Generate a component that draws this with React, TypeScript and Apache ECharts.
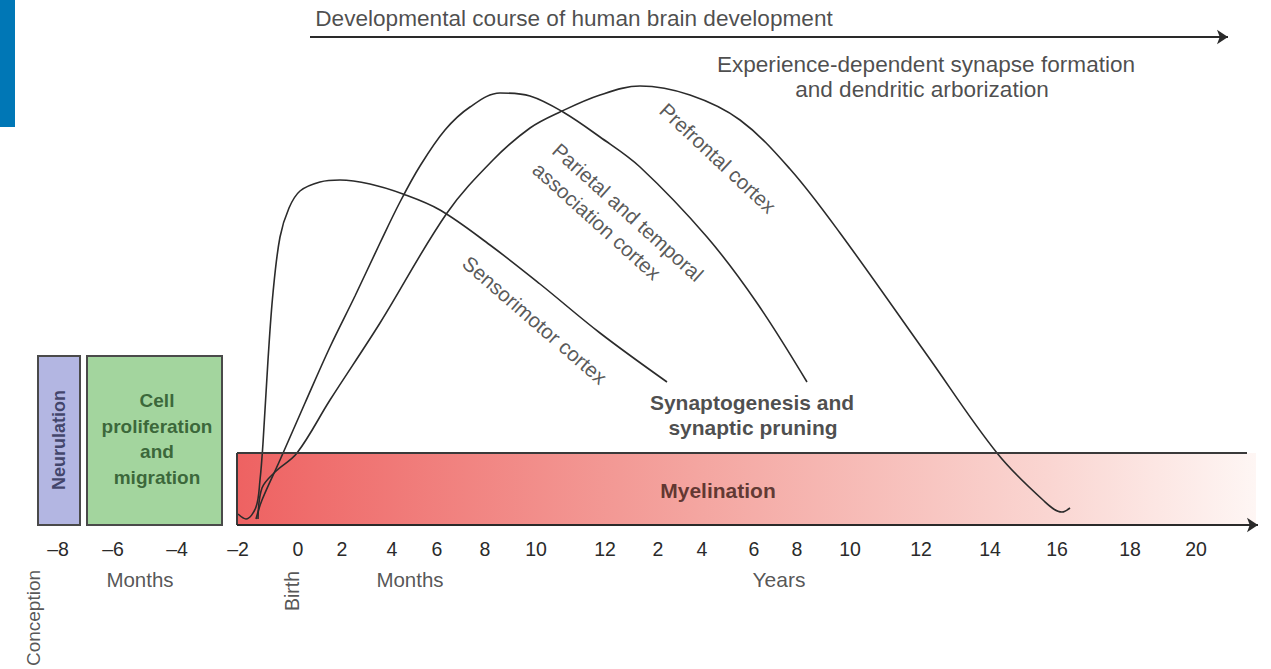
import React, { useEffect, useRef } from "react";
import * as echarts from "echarts";

// Timeline position (x) and level above the time axis (y)
const tickPositions = [58, 113, 177, 238, 298, 342, 392, 437, 485, 536, 605, 658, 702, 754, 797, 850, 921, 990, 1057, 1130, 1196];
const tickLabels = ["–8", "–6", "–4", "–2", "0", "2", "4", "6", "8", "10", "12", "2", "4", "6", "8", "10", "12", "14", "16", "18", "20"];

const sensorimotorX = [238, 246, 256, 260, 263, 268, 273, 280, 289, 300, 320, 340, 370, 403, 440, 490, 540, 600, 667];
const sensorimotorY = [11, 6, 18, 45, 82, 165, 232, 288, 317, 334, 343, 345, 341, 331, 315, 280, 241, 192, 143];

const parietalX = [256, 262, 280, 305, 330, 355, 380, 400, 420, 445, 470, 500, 530, 563, 600, 640, 707, 757, 807];
const parietalY = [6, 25, 65, 122, 178, 229, 282, 323, 359, 395, 418, 432, 429, 413, 388, 358, 288, 222, 143];

const prefrontalX = [258, 262, 275, 297, 330, 380, 447, 493, 530, 560, 600, 640, 690, 740, 790, 840, 927, 997, 1043, 1062, 1070];
const prefrontalY = [6, 37, 53, 72, 125, 202, 312, 365, 397, 413, 430, 439, 430, 405, 356, 292, 170, 72, 25, 13, 17];

// Boxes: [x0, x1, yBottom, yTop]
const neurulationBox = [38, 80, 0, 169];
const cellBox = [87, 222, 0, 169];
const myelinationBox = [237, 1256, 0, 72];
const cornerBar = [0, 15, 398, 525];

const labelTexts = [
  "Developmental course of human brain development",
  "Experience-dependent synapse formation",
  "and dendritic arborization",
  "Synaptogenesis and",
  "synaptic pruning",
  "Myelination",
  "Cell\nproliferation\nand\nmigration",
  "Neurulation",
  "Sensorimotor cortex",
  "Parietal and temporal",
  "association cortex",
  "Prefrontal cortex",
  "Months",
  "Months",
  "Years",
  "Birth",
  "Conception",
];

const labelLayout = [
  { x: 574, y: 507, size: 22.6 },
  { x: 926, y: 461, size: 22.6 },
  { x: 922, y: 436, size: 22.6 },
  { x: 752, y: 123, size: 21, bold: true },
  { x: 753, y: 98, size: 21, bold: true },
  { x: 718, y: 35, size: 21, bold: true, color: "#3a1a14" },
  { x: 157, y: 86, size: 19, bold: true, color: "#1f4a1f", lh: 25.5 },
  { x: 59, y: 85, size: 18, bold: true, color: "#24264a", rotate: 90 },
  { x: 535, y: 205, size: 20.5, rotate: -41, color: "#2e2e2e" },
  { x: 628, y: 313, size: 20.5, rotate: -42, color: "#2e2e2e" },
  { x: 597, y: 304, size: 20.5, rotate: -42, color: "#2e2e2e" },
  { x: 718, y: 367, size: 20.5, rotate: -43, color: "#2e2e2e" },
  { x: 140, y: -54, size: 20.5, color: "#2a2a2a" },
  { x: 410, y: -54, size: 20.5, color: "#2a2a2a" },
  { x: 779, y: -54, size: 21, color: "#2a2a2a" },
  { x: 292, y: -66, size: 19.5, rotate: 90, color: "#2a2a2a" },
  { x: 33, y: -93, size: 19, rotate: 90, color: "#2a2a2a" },
];

const FONT = "'Liberation Sans', Arial, Helvetica, sans-serif";

const zip = (xs: number[], ys: number[]) => xs.map((x, i) => [x, ys[i]]);

export default function App() {
  const ref = useRef<HTMLDivElement>(null);
  useEffect(() => {
    if (!ref.current) return;
    const chart = echarts.init(ref.current, undefined, { renderer: "svg" });
    const curveStyle = { color: "#2b2b2b", width: 1.6 };
    const curve = (name: string, xs: number[], ys: number[]) => ({
      name,
      type: "line",
      data: zip(xs, ys),
      smooth: 0.35,
      showSymbol: false,
      symbol: "none",
      silent: true,
      clip: false,
      z: 4,
      lineStyle: curveStyle,
    });
    const boxArea = (b: number[], style: any) => [
      { coord: [b[0], b[3]], itemStyle: style },
      { coord: [b[1], b[2]] },
    ];
    const option: any = {
      animation: false,
      grid: { left: 0, right: 0, top: 0, bottom: 144, containLabel: false, outerBoundsMode: "none" },
      xAxis: {
        type: "value",
        min: 0,
        max: 1271,
        position: "bottom",
        splitLine: { show: false },
        axisTick: { show: false },
        axisLine: { show: false, onZero: false },
        axisLabel: {
          customValues: tickPositions,
          formatter: (v: number) => {
            const i = tickPositions.indexOf(v);
            return i >= 0 ? tickLabels[i] : "";
          },
          fontSize: 19.5,
          fontFamily: FONT,
          color: "#2a2a2a",
          margin: 14,
          hideOverlap: false,
        },
      },
      yAxis: {
        type: "value",
        min: 0,
        max: 525,
        show: false,
      },
      series: [
        {
          name: "boxes",
          type: "scatter",
          data: [],
          silent: true,
          z: 1,
          markArea: {
            silent: true,
            label: { show: false },
            data: [
              boxArea(cornerBar, { color: "#0077b6", borderWidth: 0 }),
              boxArea(neurulationBox, { color: "#b3b6e2", borderColor: "#4a4a4a", borderWidth: 2 }),
              boxArea(cellBox, { color: "#a3d59e", borderColor: "#4a4a4a", borderWidth: 2 }),
              boxArea(myelinationBox, {
                color: new echarts.graphic.LinearGradient(0, 0, 1, 0, [
                  { offset: 0, color: "#ee6262" },
                  { offset: 0.45, color: "#f4a5a0" },
                  { offset: 0.8, color: "#fad6d2" },
                  { offset: 1, color: "#fef6f4" },
                ]),
                borderWidth: 0,
              }),
            ],
          },
        },
        {
          name: "edges",
          type: "scatter",
          data: [],
          silent: true,
          z: 2,
          markLine: {
            silent: true,
            symbol: ["none", "none"],
            label: { show: false },
            lineStyle: { color: "#3a3a3a", width: 2, type: "solid" },
            data: [
              [{ coord: [myelinationBox[0], myelinationBox[3]] }, { coord: [1247, myelinationBox[3]] }],
              [{ coord: [myelinationBox[0], myelinationBox[2]] }, { coord: [myelinationBox[0], myelinationBox[3]] }],
            ],
          },
        },
        {
          name: "arrows",
          type: "scatter",
          data: [],
          silent: true,
          z: 3,
          markLine: {
            silent: true,
            symbol: ["none", "arrow"],
            symbolSize: 11,
            label: { show: false },
            lineStyle: { color: "#2a2a2a", width: 2, type: "solid" },
            data: [
              [{ coord: [310, 488] }, { coord: [1228, 488] }],
              [{ coord: [237, 0] }, { coord: [1258, 0] }],
            ],
          },
        },
        curve("Sensorimotor cortex", sensorimotorX, sensorimotorY),
        curve("Parietal and temporal association cortex", parietalX, parietalY),
        curve("Prefrontal cortex", prefrontalX, prefrontalY),
        {
          name: "labels",
          type: "scatter",
          symbolSize: 0,
          silent: true,
          clip: false,
          z: 6,
          data: labelTexts.map((t, i) => {
            const l: any = labelLayout[i];
            return {
              value: [l.x, l.y],
              label: {
                show: true,
                position: "inside",
                formatter: t,
                align: "center",
                verticalAlign: "middle",
                rotate: l.rotate || 0,
                fontSize: l.size,
                fontWeight: l.bold ? "bold" : "normal",
                fontFamily: FONT,
                color: l.color || "#1e1e1e",
                lineHeight: l.lh || Math.round(l.size * 1.2),
              },
            };
          }),
        },
      ],
    };
    chart.setOption(option);
    return () => chart.dispose();
  }, []);
  return (
    <div
      ref={ref}
      style={{ position: "fixed", left: 0, top: 0, width: 1271, height: 669, background: "#fff" }}
    />
  );
}
